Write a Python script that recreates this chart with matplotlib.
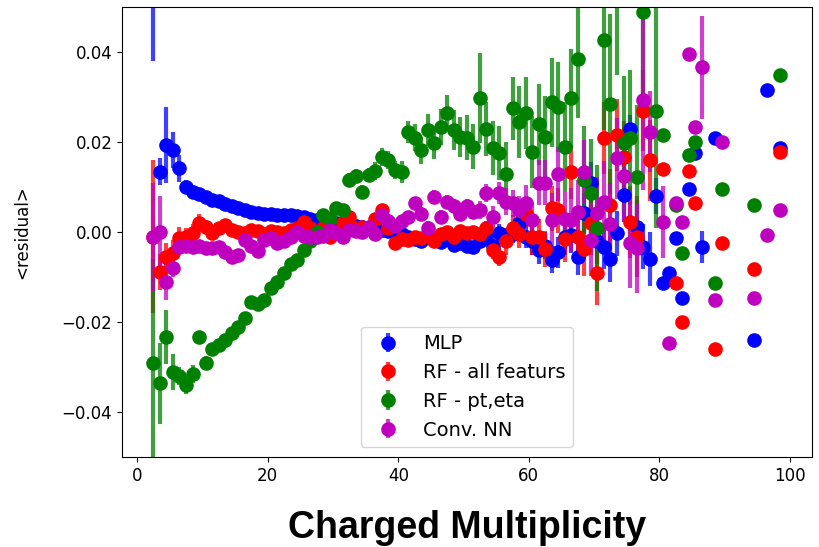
import matplotlib
matplotlib.use('Agg')
import matplotlib.pyplot as plt
import numpy as np

nan = np.nan

# bin centres of the dense part (2.5 ... 79.5)
bins = np.arange(2.5, 80, 1.0)

# MLP
mlp_y = [0.060, 0.0134, 0.0193, 0.0182, 0.0142, 0.0100, 0.0090, 0.0085, 0.0078, 0.0072,
         0.0068, 0.0062, 0.0057, 0.0053, 0.0048, 0.0045, 0.0042, 0.0040, 0.0040, 0.0039,
         0.0038, 0.0038, 0.0036, 0.0034, 0.0030, 0.0027, 0.0024, 0.0021, 0.0020, 0.0018,
         0.0015, 0.0013, 0.0011, 0.0009, 0.0006, 0.0005, 0.0003, 0.0000, -0.0005, -0.0011,
         -0.0015, -0.0020, -0.0012, -0.0018, -0.0022, -0.0015, -0.0028, -0.0025, -0.0030, -0.0033,
         -0.0020, -0.0012, -0.0030, -0.0002, -0.0010, -0.0005, 0.0020, -0.0010, -0.0020, -0.0040,
         -0.0030, -0.0062, -0.0045, -0.0010, -0.0007, -0.0055, 0.0042, 0.0110, -0.0020, -0.0033,
         -0.0060, -0.0003, 0.0082, 0.0230, 0.0012, -0.0033, -0.0060, 0.0080]
mlp_e = [0.022, 0.003, 0.0085, 0.004, 0.003, 0.0015, 0.001, 0.001, 0.0008, 0.0008,
         0.0008, 0.0008, 0.0008, 0.0008, 0.0008, 0.0008, 0.0008, 0.0008, 0.0008, 0.0008,
         0.0006, 0.0006, 0.0006, 0.0006, 0.0006, 0.0006, 0.0006, 0.0006, 0.0006, 0.0006,
         0.0006, 0.0006, 0.0006, 0.0006, 0.0006, 0.0006, 0.0006, 0.0006, 0.001, 0.001,
         0.001, 0.001, 0.001, 0.001, 0.001, 0.001, 0.001, 0.001, 0.001, 0.001,
         0.0012, 0.0012, 0.0015, 0.002, 0.002, 0.002, 0.0025, 0.0025, 0.003, 0.003,
         0.003, 0.003, 0.0035, 0.004, 0.004, 0.004, 0.0045, 0.0045, 0.005, 0.005,
         0.005, 0.005, 0.006, 0.003, 0.006, 0.005, 0.006, 0.004]
mlp_tx = [80.5, 81.5, 82.5, 83.5, 84.5, 85.5, 86.5, 88.5, 94.5, 96.5, 98.5]
mlp_ty = [-0.0114, -0.0090, -0.0014, -0.0147, 0.0095, 0.0175, -0.0033, 0.0210, -0.0240, 0.0316, 0.0186]
mlp_te = [0, 0, 0, 0, 0, 0, 0.0035, 0, 0, 0, 0]

# RF - all features
rfa_y = [-0.0010, -0.0088, -0.0055, -0.0047, -0.0014, -0.0010, -0.0003, 0.0020, 0.0012, -0.0002,
         0.0008, 0.0016, 0.0005, 0.0000, -0.0002, 0.0004, 0.0002, -0.0005, 0.0003, 0.0000,
         -0.0003, 0.0005, 0.0010, 0.0022, 0.0010, -0.0001, 0.0008, -0.0010, 0.0000, 0.0020,
         0.0033, 0.0010, 0.0012, 0.0008, 0.0030, 0.0049, 0.0010, -0.0024, -0.0015, -0.0018,
         -0.0011, -0.0014, -0.0008, -0.0020, -0.0005, 0.0000, -0.0010, 0.0003, -0.0002, 0.0000,
         -0.0005, 0.0010, -0.0040, -0.0055, -0.0020, 0.0008, -0.0005, 0.0040, -0.0010, -0.0010,
         -0.0038, 0.0053, 0.0048, -0.0016, 0.0134, -0.0010, -0.0038, 0.0020, -0.0092, 0.0210,
         0.0060, 0.0215, 0.0167, 0.0023, -0.0010, 0.0270, 0.0160, nan]
rfa_e = [0.017, 0.004, 0.003, 0.003, 0.0025, 0.002, 0.002, 0.002, 0.0015, 0.0015,
         0.0012, 0.0012, 0.0012, 0.0012, 0.0012, 0.0012, 0.0012, 0.0012, 0.0012, 0.0012,
         0.0008, 0.0008, 0.0008, 0.0008, 0.0008, 0.0008, 0.0008, 0.0008, 0.0008, 0.0008,
         0.0008, 0.0008, 0.0008, 0.0008, 0.0008, 0.0008, 0.0008, 0.0008, 0.001, 0.001,
         0.0012, 0.0012, 0.0012, 0.0012, 0.0012, 0.0012, 0.0012, 0.0012, 0.0012, 0.0012,
         0.0015, 0.0015, 0.002, 0.002, 0.003, 0.003, 0.003, 0.003, 0.004, 0.004,
         0.004, 0.005, 0.005, 0.005, 0.006, 0.006, 0.006, 0.007, 0.007, 0.008,
         0.008, 0.008, 0.008, 0.008, 0.009, 0.009, 0.009, nan]
rfa_tx = [80.5, 82.5, 83.5, 84.5, 85.5, 88.5, 89.5, 94.5, 98.5]
rfa_ty = [0.0140, -0.0114, -0.0200, 0.0136, 0.0064, -0.0260, -0.0024, -0.0083, 0.0178]
rfa_te = [0, 0, 0, 0, 0, 0, 0, 0, 0]

# RF - pt,eta
rfp_y = [-0.0290, -0.0336, -0.0234, -0.0310, -0.0320, -0.0340, -0.0315, -0.0234, -0.0290, -0.0260,
         -0.0250, -0.0240, -0.0225, -0.0210, -0.0190, -0.0155, -0.0160, -0.0150, -0.0125, -0.0110,
         -0.0090, -0.0070, -0.0062, -0.0040, -0.0020, 0.0000, 0.0038, 0.0030, 0.0053, 0.0050,
         0.0116, 0.0125, 0.0090, 0.0127, 0.0135, 0.0167, 0.0160, 0.0138, 0.0134, 0.0222,
         0.0210, 0.0182, 0.0227, 0.0198, 0.0234, 0.0264, 0.0227, 0.0211, 0.0210, 0.0190,
         0.0297, 0.0230, 0.0187, 0.0175, 0.0130, 0.0275, 0.0245, 0.0264, 0.0178, 0.0240,
         0.0212, 0.0288, 0.0278, 0.0190, 0.0297, 0.0384, 0.0115, 0.0087, 0.0009, 0.0427,
         0.0284, 0.0650, 0.0197, 0.0210, 0.0122, 0.0490, nan, 0.0270]
rfp_e = [0.023, 0.009, 0.006, 0.004, 0.002, 0.002, 0.002, 0.0015, 0.0015, 0.001,
         0.001, 0.001, 0.001, 0.001, 0.001, 0.001, 0.001, 0.001, 0.001, 0.001,
         0.001, 0.001, 0.001, 0.001, 0.001, 0.001, 0.001, 0.001, 0.001, 0.001,
         0.0015, 0.0015, 0.0015, 0.0015, 0.002, 0.002, 0.002, 0.002, 0.0025, 0.0025,
         0.003, 0.003, 0.0035, 0.0035, 0.004, 0.004, 0.0045, 0.0045, 0.005, 0.005,
         0.010, 0.006, 0.006, 0.006, 0.007, 0.007, 0.008, 0.008, 0.008, 0.009,
         0.009, 0.010, 0.010, 0.010, 0.011, 0.013, 0.012, 0.012, 0.014, 0.020,
         0.020, 0.030, 0.015, 0.015, 0.016, 0.020, nan, 0.026]
rfp_tx = [80.5, 82.5, 83.5, 84.5, 85.5, 88.5, 89.5, 94.5, 98.5]
rfp_ty = [0.0216, 0.0060, -0.0047, 0.0171, 0.0200, -0.0114, 0.0095, 0.0060, 0.0350]
rfp_te = [0, 0, 0, 0, 0, 0, 0, 0, 0]

# Conv. NN
cnn_y = [-0.0010, 0.0000, -0.0110, -0.0080, -0.0033, -0.0030, -0.0033, -0.0030, -0.0036, -0.0036,
         -0.0033, -0.0045, -0.0055, -0.0050, -0.0018, -0.0030, -0.0043, -0.0018, -0.0014, -0.0025,
         -0.0020, -0.0010, 0.0000, -0.0008, -0.0010, -0.0012, -0.0008, 0.0004, -0.0002, -0.0010,
         0.0004, 0.0002, 0.0000, 0.0011, -0.0004, 0.0038, 0.0025, 0.0013, 0.0025, 0.0033,
         0.0064, 0.0040, 0.0010, 0.0078, 0.0033, 0.0067, 0.0058, 0.0040, 0.0058, 0.0045,
         0.0050, 0.0087, 0.0033, 0.0087, 0.0067, 0.0064, 0.0050, 0.0064, 0.0027, 0.0110,
         0.0110, 0.0027, 0.0130, 0.0028, 0.0027, 0.0045, 0.0134, -0.0018, 0.0042, 0.0067,
         0.0018, 0.0164, 0.0124, -0.0025, -0.0036, 0.0293, 0.0223, nan]
cnn_e = [0.012, 0.008, 0.004, 0.002, 0.0015, 0.0015, 0.0012, 0.0012, 0.001, 0.001,
         0.0008, 0.0008, 0.0008, 0.0008, 0.0008, 0.0008, 0.0008, 0.0008, 0.0008, 0.0008,
         0.0008, 0.0008, 0.0008, 0.0008, 0.0008, 0.0008, 0.0008, 0.0008, 0.0008, 0.0008,
         0.0008, 0.0008, 0.0008, 0.0008, 0.0008, 0.0008, 0.001, 0.001, 0.0012, 0.0012,
         0.0015, 0.0015, 0.0015, 0.0015, 0.0015, 0.0015, 0.0015, 0.0015, 0.0015, 0.0015,
         0.002, 0.002, 0.0025, 0.0025, 0.003, 0.003, 0.003, 0.004, 0.004, 0.005,
         0.005, 0.006, 0.006, 0.006, 0.007, 0.007, 0.007, 0.008, 0.008, 0.009,
         0.009, 0.009, 0.010, 0.010, 0.010, 0.020, 0.009, nan]
cnn_tx = [80.5, 81.5, 82.5, 83.5, 84.5, 85.5, 86.5, 88.5, 89.5, 94.5, 96.5, 98.5]
cnn_ty = [0.0022, -0.0247, 0.0064, 0.0022, 0.0396, 0.0234, 0.0366, -0.0150, 0.0200, -0.0147, -0.0007, 0.0050]
cnn_te = [0.008, 0, 0, 0, 0, 0, 0.0115, 0, 0, 0, 0, 0]

series = [
    ('MLP', 'b', mlp_y, mlp_e, mlp_tx, mlp_ty, mlp_te),
    ('RF - all featurs', 'r', rfa_y, rfa_e, rfa_tx, rfa_ty, rfa_te),
    ('RF - pt,eta', 'g', rfp_y, rfp_e, rfp_tx, rfp_ty, rfp_te),
    ('Conv. NN', 'm', cnn_y, cnn_e, cnn_tx, cnn_ty, cnn_te),
]

fig, ax = plt.subplots(figsize=(8.19, 5.47), dpi=100)
fig.subplots_adjust(left=0.149, right=0.991, top=0.987, bottom=0.1645)

for label, c, y, e, tx, ty, te in series:
    xs = np.concatenate([bins, tx])
    ys = np.concatenate([y, ty])
    es = np.concatenate([e, te])
    eb = ax.errorbar(xs, ys, yerr=es, fmt='o', color=c, ms=9.5,
                     elinewidth=3, label=label)
    eb[2][0].set_alpha(0.75)

ax.set_ylim(-0.05, 0.05)
ax.set_xticks([0, 20, 40, 60, 80, 100])
ax.set_yticks([-0.04, -0.02, 0.0, 0.02, 0.04])
ax.tick_params(labelsize=12)
ax.set_ylabel('<residual>', fontsize=12, labelpad=22)
ax.set_xlabel('Charged Multiplicity', fontsize=27, fontweight='bold',
              family='Liberation Sans', labelpad=18)
ax.legend(loc='lower center', fontsize=14)

plt.savefig('out.png')
